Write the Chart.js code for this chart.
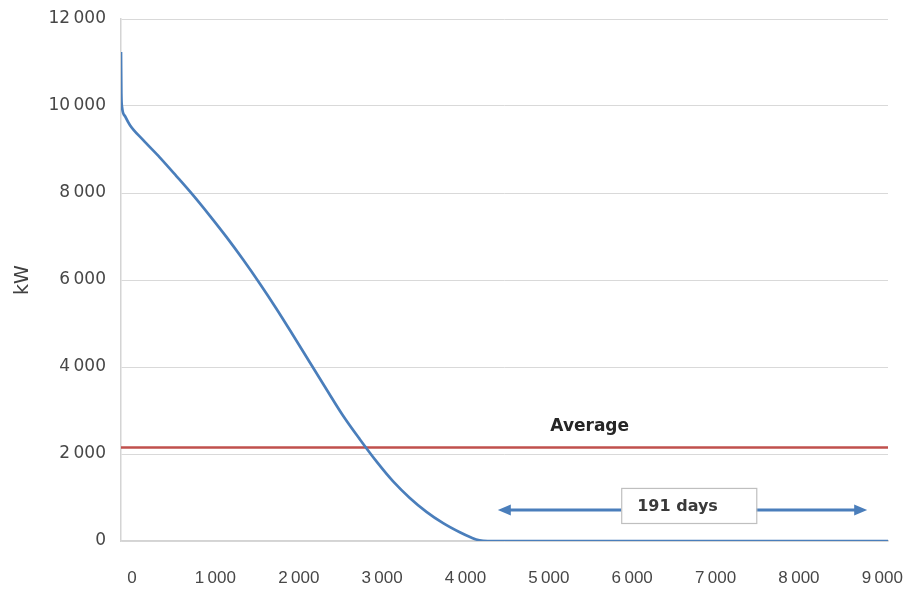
<!DOCTYPE html>
<html>
<head>
<meta charset="utf-8">
<title>Load duration curve</title>
<script src="https://cdn.jsdelivr.net/npm/chart.js@4.4.1/dist/chart.umd.min.js"></script>
<style>
  html, body { margin: 0; padding: 0; background: #ffffff; }
  #wrap { width: 904px; height: 590px; }
</style>
</head>
<body>
<div id="wrap"><canvas id="chart" width="904" height="590"></canvas></div>
<script>
// Sorted hourly load (kW) against number of hours
const hours  = [0, 4, 12, 50, 108, 264, 464, 664, 864, 1064, 1264, 1464, 1664, 1864, 2064, 2264, 2464, 2664, 2864, 3064, 3264, 3464, 3664, 3864, 4064, 4200, 4300, 4400, 9200];
const loadKW = [11240, 10300, 9980, 9760, 9560, 9220, 8820, 8390, 7950, 7480, 6990, 6470, 5920, 5340, 4730, 4110, 3490, 2880, 2340, 1830, 1370, 990, 670, 410, 200, 80, 15, 0, 0];

// Mean load over the period
const averageKW = 2150;
const averageSpan = [0, 9200];

// Axis ticks
const xTickValues = [0, 1000, 2000, 3000, 4000, 5000, 6000, 7000, 8000, 9000];
const yTickValues = [0, 2000, 4000, 6000, 8000, 10000, 12000];

// Zero-load stretch marker
const zeroSpanFrom = 4520;
const zeroSpanTo = 8950;
const zeroSpanLevel = 710;
const zeroSpanLabel = '191 days';
const averageLabel = 'Average';

const fmt = v => {
  const s = String(v);
  return s.length > 3 ? s.slice(0, s.length - 3) + '\u2009' + s.slice(-3) : s;
};

const BLUE = '#4a7ebb';
const RED = '#c0504d';

const notes = {
  id: 'notes',
  afterDatasetsDraw(chart) {
    const { ctx } = chart;
    const x = chart.scales.x, y = chart.scales.y;
    ctx.save();

    // "Average" caption above the red line
    ctx.font = 'bold 17px "DejaVu Sans"';
    ctx.fillStyle = '#262626';
    ctx.textAlign = 'left';
    ctx.textBaseline = 'middle';
    ctx.fillText(averageLabel, x.getPixelForValue(5150), y.getPixelForValue(2620));

    // double-headed arrow over the zero-load hours
    const x1 = x.getPixelForValue(zeroSpanFrom);
    const x2 = x.getPixelForValue(zeroSpanTo);
    const ya = y.getPixelForValue(zeroSpanLevel);
    const head = 13, half = 5.5;
    ctx.strokeStyle = BLUE;
    ctx.fillStyle = BLUE;
    ctx.lineWidth = 3;
    ctx.beginPath();
    ctx.moveTo(x1 + head - 2, ya);
    ctx.lineTo(x2 - head + 2, ya);
    ctx.stroke();
    ctx.beginPath();
    ctx.moveTo(x1, ya); ctx.lineTo(x1 + head, ya - half); ctx.lineTo(x1 + head, ya + half); ctx.closePath();
    ctx.fill();
    ctx.beginPath();
    ctx.moveTo(x2, ya); ctx.lineTo(x2 - head, ya - half); ctx.lineTo(x2 - head, ya + half); ctx.closePath();
    ctx.fill();

    // label box
    const bx1 = x.getPixelForValue(6000), bx2 = x.getPixelForValue(7620);
    const by1 = y.getPixelForValue(1220), by2 = y.getPixelForValue(414);
    ctx.fillStyle = '#ffffff';
    ctx.fillRect(bx1, by1, bx2 - bx1, by2 - by1);
    ctx.strokeStyle = '#bfbfbf';
    ctx.lineWidth = 1.2;
    ctx.strokeRect(bx1 + 0.5, by1 + 0.5, bx2 - bx1, by2 - by1);
    ctx.font = 'bold 16px "DejaVu Sans"';
    ctx.fillStyle = '#3a3a3a';
    ctx.textBaseline = 'middle';
    ctx.fillText(zeroSpanLabel, bx1 + 16, (by1 + by2) / 2 + 1);

    ctx.restore();
  }
};

new Chart(document.getElementById('chart'), {
  type: 'line',
  data: {
    datasets: [
      {
        label: 'Load',
        data: hours.map((h, i) => ({ x: h, y: loadKW[i] })),
        borderColor: BLUE,
        borderWidth: 2.7,
        pointRadius: 0,
        cubicInterpolationMode: 'monotone',
        fill: false
      },
      {
        label: 'Average',
        data: averageSpan.map(h => ({ x: h, y: averageKW })),
        borderColor: RED,
        borderWidth: 2.6,
        pointRadius: 0,
        fill: false
      }
    ]
  },
  options: {
    responsive: false,
    animation: false,
    events: [],
    layout: { padding: { left: 0, right: 16, top: 19, bottom: 0 } },
    plugins: { legend: { display: false }, tooltip: { enabled: false } },
    scales: {
      x: {
        type: 'linear',
        min: 0,
        max: 9200,
        afterBuildTicks: s => { s.ticks = xTickValues.map(v => ({ value: v })); },
        afterFit: s => { s.height = 49; s.paddingLeft = 0; s.paddingRight = 0; },
        grid: { display: false, drawTicks: false },
        border: { display: true, color: '#d4d4d4', width: 1.5 },
        ticks: {
          padding: 27,
          labelOffset: 11,
          maxRotation: 0,
          autoSkip: false,
          color: '#474747',
          font: { family: '"Liberation Sans"', size: 17 },
          callback: v => fmt(v)
        }
      },
      y: {
        type: 'linear',
        min: 0,
        max: 12000,
        afterBuildTicks: s => { s.ticks = yTickValues.map(v => ({ value: v })); },
        afterFit: s => { s.width = 121; s.paddingTop = 0; s.paddingBottom = 0; },
        grid: { color: '#d9d9d9', lineWidth: 1, drawTicks: false },
        border: { display: true, color: '#d4d4d4', width: 1.5 },
        title: {
          display: true,
          text: 'kW',
          color: '#404040',
          font: { family: '"DejaVu Sans"', size: 19 },
          padding: { top: 12, bottom: 0 }
        },
        ticks: {
          padding: 15,
          color: '#474747',
          font: { family: '"DejaVu Sans"', size: 17 },
          callback: v => fmt(v)
        }
      }
    }
  },
  plugins: [notes]
});
</script>
</body>
</html>
